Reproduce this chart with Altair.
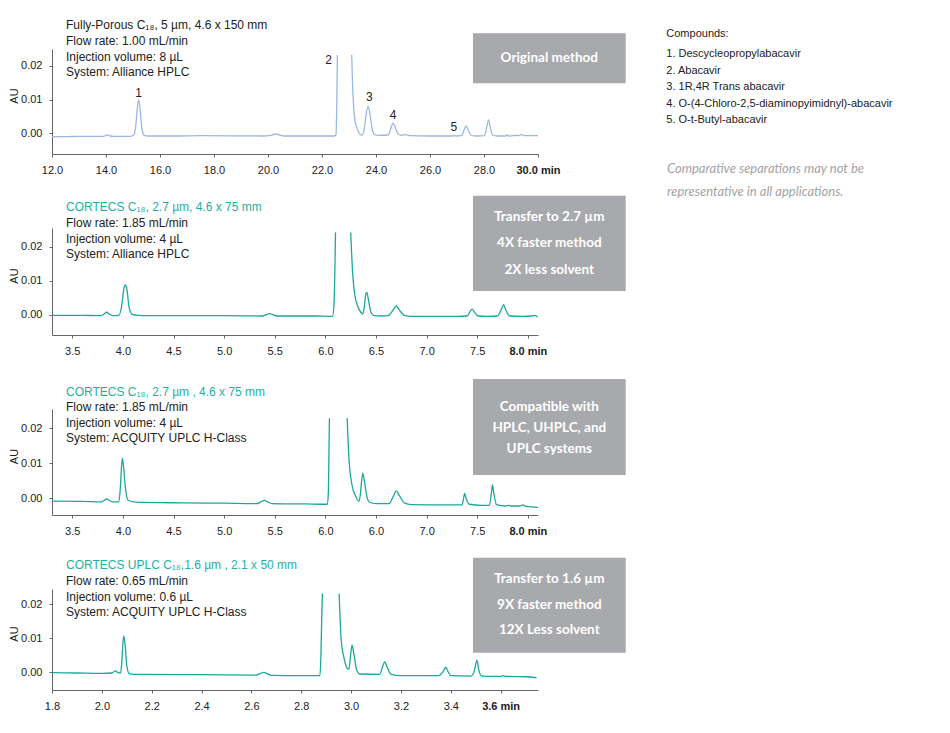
import altair as alt
import pandas as pd

# ---------------- data ----------------
# Panel 1: Fully-Porous C18, 5 um  (time [min], absorbance [AU])
p1_trace = [
    (12.0, -0.0010), (12.5, -0.0010), (13.0, -0.0009), (13.9, -0.0009), (14.0, -0.0006),
    (14.05, -0.0005), (14.15, -0.0008), (14.3, -0.0009), (14.9, -0.0009), (15.02, -0.0006),
    (15.10, 0.0020), (15.16, 0.0075), (15.21, 0.0099), (15.26, 0.0075), (15.32, 0.0020),
    (15.42, -0.0006), (15.55, -0.0008), (16.5, -0.0008), (17.5, -0.0007), (19.8, -0.0008),
    (20.1, -0.0006), (20.28, -0.0002), (20.45, -0.0006), (20.6, -0.0008), (22.0, -0.0008),
    (22.45, -0.0008), (22.52, -0.0003), (22.55, 0.0100), (22.57, 0.0233),
    (23.10, 0.0233), (23.13, 0.0150), (23.17, 0.0080), (23.22, 0.0040), (23.30, 0.0015),
    (23.40, -0.0002), (23.48, -0.0005), (23.56, 0.0010), (23.64, 0.0060), (23.71, 0.0080),
    (23.78, 0.0055), (23.86, 0.0012), (23.95, -0.0004), (24.1, -0.0006), (24.45, -0.0005),
    (24.55, 0.0015), (24.63, 0.0030), (24.70, 0.0020), (24.82, -0.0002), (24.95, -0.0006),
    (25.1, -0.0004), (25.25, -0.0007), (26.0, -0.0008), (26.85, -0.0008), (26.9, -0.0006),
    (26.95, -0.0008), (27.18, -0.0006), (27.27, 0.0012), (27.34, 0.0022), (27.40, 0.0012),
    (27.50, -0.0005), (27.7, -0.0008), (28.02, -0.0007), (28.10, 0.0018), (28.17, 0.0040),
    (28.23, 0.0018), (28.32, -0.0005), (28.5, -0.0008), (28.8, -0.0008), (28.86, -0.0004),
    (28.92, -0.0008), (29.1, -0.0007), (29.2, -0.0006), (29.3, -0.0007), (29.4, -0.0003),
    (29.48, -0.0007), (30.0, -0.0007),
]
p1_offscale = (22.57, 23.10)   # peak 2 runs off the top between these times

# Panel 2: CORTECS C18, 2.7 um, Alliance HPLC
p2_trace = [
    (3.30, -0.0001), (3.60, -0.0001), (3.78, -0.0002), (3.81, 0.0002), (3.84, 0.0008),
    (3.87, 0.0002), (3.90, -0.0002), (3.96, -0.0001), (3.99, 0.0030), (4.01, 0.0078),
    (4.025, 0.0088), (4.04, 0.0075), (4.06, 0.0025), (4.09, 0.0002), (4.15, -0.0001),
    (4.25, -0.0002), (5.00, -0.0002), (5.38, -0.0003), (5.42, 0.0001), (5.45, 0.0004),
    (5.48, 0.0001), (5.52, -0.0003), (5.90, -0.0003), (6.07, -0.0004), (6.085, 0.0030),
    (6.095, 0.0150), (6.10, 0.0242),
    (6.25, 0.0242), (6.27, 0.0120), (6.29, 0.0060), (6.32, 0.0025), (6.35, 0.0008),
    (6.37, 0.0003), (6.385, 0.0025), (6.40, 0.0062), (6.41, 0.0066), (6.425, 0.0045),
    (6.45, 0.0008), (6.48, -0.0002), (6.55, -0.0003), (6.62, -0.0002), (6.67, 0.0015),
    (6.70, 0.0027), (6.73, 0.0015), (6.78, -0.0001), (6.85, -0.0004), (7.30, -0.0004),
    (7.40, -0.0003), (7.43, 0.0010), (7.45, 0.0017), (7.47, 0.0009), (7.51, -0.0003),
    (7.60, -0.0004), (7.70, -0.0003), (7.74, 0.0018), (7.76, 0.0030), (7.78, 0.0016),
    (7.82, -0.0003), (7.95, -0.0004), (8.04, -0.0003), (8.07, -0.0001), (8.10, -0.0006),
]
p2_offscale = (6.10, 6.25)

# Panel 3: CORTECS C18, 2.7 um, ACQUITY UPLC H-Class
p3_trace = [
    (3.30, -0.0008), (3.60, -0.0009), (3.79, -0.0010), (3.82, -0.0005), (3.84, -0.0002),
    (3.87, -0.0007), (3.90, -0.0010), (3.96, -0.0010), (3.975, 0.0030), (3.988, 0.0095),
    (3.995, 0.0114), (4.005, 0.0095), (4.025, 0.0030), (4.05, -0.0005), (4.12, -0.0011),
    (4.60, -0.0013), (5.00, -0.0014), (5.33, -0.0015), (5.37, -0.0009), (5.40, -0.0006),
    (5.43, -0.0010), (5.47, -0.0015), (5.80, -0.0016), (6.02, -0.0017), (6.03, 0.0020),
    (6.035, 0.0120), (6.04, 0.0229),
    (6.215, 0.0229), (6.235, 0.0105), (6.263, 0.0038), (6.30, 0.0005), (6.33, -0.0008),
    (6.345, 0.0010), (6.36, 0.0055), (6.37, 0.0071), (6.385, 0.0050), (6.41, 0.0005),
    (6.44, -0.0012), (6.50, -0.0015), (6.63, -0.0015), (6.67, 0.0005), (6.70, 0.0021),
    (6.73, 0.0008), (6.78, -0.0013), (6.85, -0.0018), (7.20, -0.0019), (7.35, -0.0019),
    (7.365, 0.0000), (7.375, 0.0014), (7.39, 0.0000), (7.42, -0.0017), (7.55, -0.0020),
    (7.62, -0.0020), (7.64, 0.0015), (7.65, 0.0038), (7.665, 0.0012), (7.69, -0.0018),
    (7.78, -0.0022), (7.81, -0.0020), (7.83, -0.0022), (7.92, -0.0022), (7.95, -0.0019),
    (7.98, -0.0023), (8.10, -0.0026),
]
p3_offscale = (6.04, 6.215)

# Panel 4: CORTECS UPLC C18, 1.6 um
p4_trace = [
    (1.80, -0.0001), (1.90, -0.0002), (2.00, -0.0003), (2.04, -0.0002), (2.054, 0.0004),
    (2.065, -0.0001), (2.075, -0.0002), (2.080, 0.0030), (2.085, 0.0090), (2.088, 0.0107),
    (2.093, 0.0085), (2.100, 0.0020), (2.110, -0.0004), (2.13, -0.0006), (2.40, -0.0007),
    (2.62, -0.0008), (2.64, -0.0002), (2.65, 0.0000), (2.66, -0.0003), (2.68, -0.0009),
    (2.80, -0.0010), (2.875, -0.0010), (2.879, 0.0050), (2.882, 0.0150), (2.885, 0.0232),
    (2.952, 0.0232), (2.960, 0.0100), (2.972, 0.0041), (2.983, 0.0014), (2.991, 0.0009),
    (2.998, 0.0050), (3.004, 0.0080), (3.011, 0.0055), (3.022, 0.0008), (3.035, -0.0005),
    (3.115, -0.0006), (3.128, 0.0020), (3.135, 0.0031), (3.145, 0.0015), (3.16, -0.0006),
    (3.20, -0.0010), (3.35, -0.0010), (3.372, 0.0005), (3.380, 0.0015), (3.388, 0.0004),
    (3.40, -0.0010), (3.48, -0.0011), (3.495, 0.0005), (3.505, 0.0036), (3.512, 0.0008),
    (3.525, -0.0011), (3.60, -0.0012), (3.61, -0.0010), (3.62, -0.0012), (3.70, -0.0013),
    (3.744, -0.0016),
]
p4_offscale = (2.885, 2.952)

# peak numbers in panel 1
peak_label_text = ["1", "2", "3", "4", "5"]
peak_label_time = [15.21, 22.24, 23.75, 24.63, 26.88]
peak_label_au = [0.0119, 0.0218, 0.0109, 0.0054, 0.0018]

# axis ticks
p1_ticks = [12, 14, 16, 18, 20, 22, 24, 26, 28, 30]
p23_ticks = [3.5, 4.0, 4.5, 5.0, 5.5, 6.0, 6.5, 7.0, 7.5, 8.0]
p4_ticks = [1.8, 2.0, 2.2, 2.4, 2.6, 2.8, 3.0, 3.2, 3.4, 3.6]
y_ticks = [0.0, 0.01, 0.02]

# texts
p1_lines = ["Fully-Porous C\u2081\u2088, 5 \u00b5m, 4.6 x 150 mm", "Flow rate: 1.00 mL/min",
            "Injection volume: 8 \u00b5L", "System: Alliance HPLC"]
p2_lines = ["CORTECS C\u2081\u2088, 2.7 \u00b5m, 4.6 x 75 mm", "Flow rate: 1.85 mL/min",
            "Injection volume: 4 \u00b5L", "System: Alliance HPLC"]
p3_lines = ["CORTECS C\u2081\u2088, 2.7 \u00b5m , 4.6 x 75 mm", "Flow rate: 1.85 mL/min",
            "Injection volume: 4 \u00b5L", "System: ACQUITY UPLC H-Class"]
p4_lines = ["CORTECS UPLC C\u2081\u2088,1.6 \u00b5m , 2.1 x 50 mm", "Flow rate: 0.65 mL/min",
            "Injection volume: 0.6 \u00b5L", "System: ACQUITY UPLC H-Class"]
box1_lines = ["Original method"]
box2_lines = ["Transfer to 2.7 \u00b5m", "4X faster method", "2X less solvent"]
box3_lines = ["Compatible with", "HPLC, UHPLC, and", "UPLC systems"]
box4_lines = ["Transfer to 1.6 \u00b5m", "9X faster method", "12X Less solvent"]
compound_lines = ["Compounds:", "1. Descycleopropylabacavir", "2. Abacavir",
                  "3. 1R,4R Trans abacavir",
                  "4. O-(4-Chloro-2,5-diaminopyimidnyl)-abacavir", "5. O-t-Butyl-abacavir"]
note_lines = ["Comparative separations may not be", "representative in all applications."]

# ---------------- styling ----------------
W = 486
FONT = "Liberation Sans"
BOXFONT = "Lato"
BLUE = "#9db8df"
TEAL = "#1aa99a"
TEAL_TXT = "#1db1a3"
BOX = "#a8a9ac"
AXIS = "#666666"
INK = "#222222"


def one():
    return alt.Data(values=[{}])


def txt(s, x, y, size=12, color=INK, font=FONT, weight="normal", style="normal", align="left"):
    return alt.Chart(one()).mark_text(
        fontSize=size, color=color, font=font, fontWeight=weight, fontStyle=style,
        align=align, baseline="middle"
    ).encode(x=alt.value(x), y=alt.value(y), text=alt.value(s))


def box(y0, y1):
    return alt.Chart(one()).mark_rect(color=BOX).encode(
        x=alt.value(421), x2=alt.value(573.7), y=alt.value(y0), y2=alt.value(y1))


def trace_df(trace, off):
    return pd.DataFrame({
        "t": [p[0] for p in trace],
        "au": [p[1] for p in trace],
        "seg": [0 if p[0] <= off[0] else 1 for p in trace],
    })


def panel(trace, off, color, xdom, ydom, ticks, last, expr, h, lines, line_y, first_color,
          blines, bbox, bline_y, extra=None):
    df = trace_df(trace, off)
    xaxis = alt.Axis(
        values=ticks, labelExpr=expr, title=None, grid=False,
        labelFontWeight={"condition": {"test": f"datum.value == {last}", "value": "bold"},
                         "value": "normal"},
        tickSize=3, labelPadding=7, labelFlush=False, labelOverlap=False,
        labelFont=FONT, labelFontSize=11, labelColor=INK,
        domainColor=AXIS, tickColor=AXIS,
    )
    yaxis = alt.Axis(
        values=y_ticks, format=".2f", title="AU", grid=False,
        tickSize=3, labelPadding=7, labelFont=FONT, labelFontSize=11, labelColor=INK,
        domainColor=AXIS, tickColor=AXIS,
        titleFont=FONT, titleFontSize=11, titleFontWeight="normal", titleColor=INK,
        titleX=-35, titleY=h / 2 - 6, titleAngle=270, titleAlign="center",
        titleBaseline="alphabetic",
    )
    line = alt.Chart(df).mark_line(
        color=color, strokeWidth=1.3, interpolate="monotone", clip=True
    ).encode(
        x=alt.X("t:Q", scale=alt.Scale(domain=xdom, nice=False, zero=False), axis=xaxis),
        y=alt.Y("au:Q", scale=alt.Scale(domain=ydom, nice=False, zero=False), axis=yaxis),
        detail="seg:N",
    )
    layers = [line]
    for i, (s, yy) in enumerate(zip(lines, line_y)):
        layers.append(txt(s, 14, yy, color=first_color if i == 0 else INK))
    layers.append(box(*bbox))
    for s, yy in zip(blines, bline_y):
        layers.append(txt(s, 497.3, yy, size=13.5, color="white", font=BOXFONT,
                          weight="bold", align="center"))
    if extra:
        layers += extra
    return alt.layer(*layers).properties(width=W, height=h)


# panel 1 extras: peak numbers, compound list and note
pk = pd.DataFrame({"t": peak_label_time, "au": peak_label_au, "lab": peak_label_text})
peak_labels = alt.Chart(pk).mark_text(
    font=FONT, fontSize=12, color=INK, baseline="middle", align="center"
).encode(x="t:Q", y="au:Q", text="lab:N")

side = [peak_labels]
for s, yy in zip(compound_lines, [-15, 5.3, 22, 38.3, 55, 71]):
    side.append(txt(s, 614.3, yy, size=11))
for s, yy in zip(note_lines, [120.3, 142.7]):
    side.append(txt(s, 615, yy, size=13, color="#a3a3a3", font=BOXFONT, style="italic"))

fmt = "format(datum.value, '.1f')"
c1 = panel(p1_trace, p1_offscale, BLUE, [12, 30], [-0.00615, 0.02505], p1_ticks, 30,
           f"datum.value == 30 ? '30.0 min' : {fmt}", 105,
           p1_lines, [-24, -8.3, 7.7, 22.7], INK,
           box1_lines, (-15.7, 34.3), [9.3], extra=side)
c2 = panel(p2_trace, p2_offscale, TEAL, [3.3, 8.1], [-0.00586, 0.02548], p23_ticks, 8,
           f"datum.value == 8 ? '8.0 min' : {fmt}", 107,
           p2_lines, [-21.3, -4.7, 11, 26.3], TEAL_TXT,
           box2_lines, (-32.3, 63), [-11.3, 15.3, 42])
c3 = panel(p3_trace, p3_offscale, TEAL, [3.3, 8.1], [-0.00477, 0.02551], p23_ticks, 8,
           f"datum.value == 8 ? '8.0 min' : datum.value == 6.5 ? '6.0' : {fmt}", 106,
           p3_lines, [-17.3, -1.7, 13.7, 29.3], TEAL_TXT,
           box3_lines, (-30, 66), [-1.7, 19.3, 40])
c4 = panel(p4_trace, p4_offscale, TEAL, [1.8, 3.75], [-0.0052, 0.0245], p4_ticks, 3.6,
           f"datum.value == 3.6 ? '3.6 min' : {fmt}", 101,
           p4_lines, [-24, -8.3, 7.7, 23.3], TEAL_TXT,
           box4_lines, (-31.3, 63.7), [-9.7, 16, 41])

chart = alt.vconcat(c1, c2, c3, c4, spacing=74, bounds="flush").properties(
    padding={"left": 0, "top": 11, "right": 5, "bottom": 5}
).configure_view(stroke=None)

chart.save("out.html", embed_options={"renderer": "svg", "actions": False})
